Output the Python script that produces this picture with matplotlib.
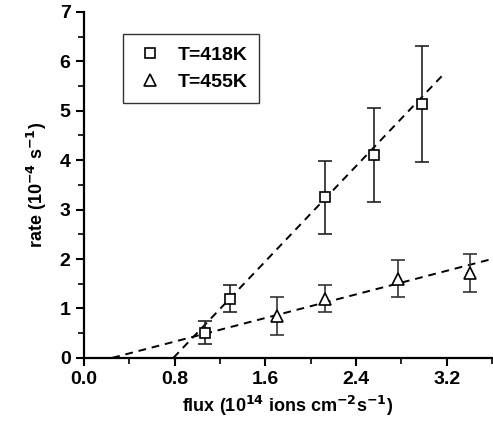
import matplotlib
matplotlib.use("Agg")
import matplotlib.pyplot as plt
from matplotlib.ticker import MultipleLocator

plt.rcParams['font.family'] = ['Liberation Sans', 'DejaVu Sans']
plt.rcParams['font.weight'] = 'bold'
plt.rcParams['mathtext.default'] = 'bf'

# T=418K (squares)
flux_418 = [1.07, 1.29, 2.13, 2.56, 2.98]
rate_418 = [0.51, 1.20, 3.25, 4.10, 5.13]
err_418 = [0.23, 0.27, 0.74, 0.95, 1.17]
fit_418_x = [0.79, 3.19]
fit_418_y = [0.0, 5.78]

# T=455K (triangles)
flux_455 = [1.70, 2.13, 2.77, 3.41]
rate_455 = [0.85, 1.20, 1.60, 1.72]
err_455 = [0.39, 0.27, 0.37, 0.38]
fit_455_x = [0.25, 3.6]
fit_455_y = [0.0, 2.0]

fig = plt.figure(figsize=(4.93, 4.25), dpi=100)
ax = fig.add_axes([0.170, 0.158, 0.828, 0.814])

ax.plot(fit_418_x, fit_418_y, ls=(0, (4, 3)), color='black', lw=1.4)
ax.plot(fit_455_x, fit_455_y, ls=(0, (4, 3)), color='black', lw=1.4)

ax.errorbar(flux_418, rate_418, yerr=err_418, fmt='none', ecolor='#222222',
            elinewidth=1.2, capsize=5, capthick=1.2)
ax.errorbar(flux_455, rate_455, yerr=err_455, fmt='none', ecolor='#333333',
            elinewidth=1.2, capsize=5, capthick=1.2)
ax.plot(flux_418, rate_418, 's', ms=6.5, mfc='white', mec='black', mew=1.2,
        label='T=418K', zorder=5)
ax.plot(flux_455, rate_455, '^', ms=8, mfc='white', mec='black', mew=1.2,
        label='T=455K', zorder=5)

ax.set_xlim(0, 3.6)
ax.set_ylim(0, 7)
ax.xaxis.set_minor_locator(MultipleLocator(0.4))
ax.yaxis.set_major_locator(MultipleLocator(1))
ax.yaxis.set_minor_locator(MultipleLocator(0.5))
ax.set_xticks([0.0, 0.8, 1.6, 2.4, 3.2])
ax.set_xticklabels(['0.0', '0.8', '1.6', '2.4', '3.2'])

for s in ['top', 'right']:
    ax.spines[s].set_visible(False)
for s in ['left', 'bottom']:
    ax.spines[s].set_linewidth(1.6)
ax.tick_params(which='major', direction='out', length=6, width=1.5, labelsize=14)
ax.tick_params(which='minor', direction='out', length=4, width=1.2)
for lab in ax.get_xticklabels() + ax.get_yticklabels():
    lab.set_fontweight('bold')

ax.set_xlabel(r'flux (10$^{14}$ ions cm$^{-2}$s$^{-1}$)',
              fontsize=13, fontweight='bold', labelpad=4)
ax.set_ylabel(r'rate (10$^{-4}$ s$^{-1}$)',
              fontsize=13, fontweight='bold', labelpad=8)

leg = ax.legend(loc='upper left', bbox_to_anchor=(0.096, 0.935), frameon=True,
                fancybox=False, edgecolor='black', fontsize=14,
                handletextpad=0.6, handlelength=1.6, borderpad=0.6,
                labelspacing=0.5, borderaxespad=0)
leg.get_frame().set_linewidth(1.0)
for t in leg.get_texts():
    t.set_fontweight('bold')

fig.savefig('out.png', dpi=100)
